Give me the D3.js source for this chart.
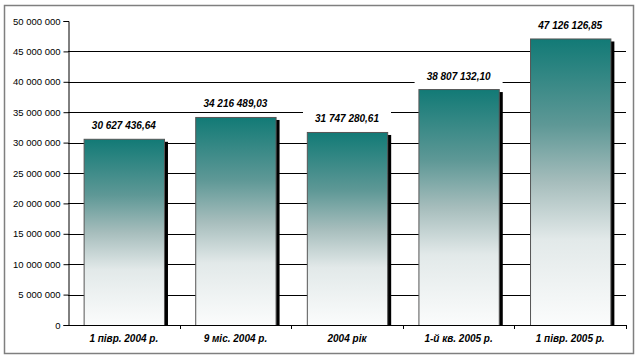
<!DOCTYPE html>
<html><head><meta charset="utf-8">
<script src="https://cdn.jsdelivr.net/npm/d3@7"></script>
<style>body{margin:0;background:#fff}svg{display:block}</style>
</head><body><svg id="c" width="640" height="359"></svg>
<script>
const categories = ["1 півр. 2004 р.", "9 міс. 2004 р.", "2004 рік", "1-й кв. 2005 р.", "1 півр. 2005 р."];
const values = [30627436.64, 34216489.03, 31747280.61, 38807132.10, 47126126.85];
const valueLabels = ["30 627 436,64", "34 216 489,03", "31 747 280,61", "38 807 132,10", "47 126 126,85"];
const yTicks = [0, 5000000, 10000000, 15000000, 20000000, 25000000, 30000000, 35000000, 40000000, 45000000, 50000000];

const svg = d3.select("#c");
const m = {l: 68, r: 626, t: 21, b: 325};
svg.append("rect").attr("x", 4.5).attr("y", 5.5).attr("width", 629).attr("height", 348)
  .attr("fill", "#fff").attr("stroke", "#7f7f7f").attr("stroke-width", 1.5);

const x = d3.scaleBand().domain(categories).range([m.l, m.r]).paddingInner(0.28).paddingOuter(0.14);
const xb = d3.scaleBand().domain(categories).range([m.l, m.r]);
const y = d3.scaleLinear().domain([0, 50000000]).range([m.b, m.t]);

const defs = svg.append("defs");
const g = defs.append("linearGradient").attr("id", "grad").attr("x1", 0).attr("y1", 0).attr("x2", 0).attr("y2", 1);
[["0%", "#127a76"], ["30%", "#5e9896"], ["50%", "#a6bdbc"], ["70%", "#e2e9e9"], ["100%", "#fbfcfc"]]
  .forEach(([o, c]) => g.append("stop").attr("offset", o).attr("stop-color", c));

// gridlines
svg.append("g").selectAll("line").data(yTicks.filter(d => d > 0 && d < 50000000)).join("line")
  .attr("x1", m.l).attr("x2", m.r).attr("y1", d => Math.round(y(d)) + 0.5).attr("y2", d => Math.round(y(d)) + 0.5)
  .attr("stroke", "#000").attr("stroke-width", 1);

// y axis
const ya = svg.append("g").attr("transform", `translate(${m.l + 0.5},0)`)
  .call(d3.axisLeft(y).tickValues(yTicks).tickSize(5).tickPadding(3)
    .tickFormat(d => d3.format(",")(d).replace(/,/g, " ")));
ya.selectAll("text").attr("font-family", "Arial, 'Liberation Sans', sans-serif").attr("font-size", "9.5px").attr("fill", "#000");
ya.select(".domain").attr("stroke", "#000");
ya.selectAll(".tick line").attr("stroke", "#000");

// shadows
svg.append("g").selectAll("rect").data(values).join("rect")
  .attr("x", (d, i) => x(categories[i]) + x.bandwidth()).attr("y", d => y(d) + 3)
  .attr("width", 4).attr("height", d => m.b - y(d) - 3).attr("fill", "#000");
// bars
svg.append("g").selectAll("rect").data(values).join("rect")
  .attr("x", (d, i) => x(categories[i]) + 0.5).attr("y", d => y(d) + 0.5)
  .attr("width", x.bandwidth()).attr("height", d => m.b - y(d))
  .attr("fill", "url(#grad)").attr("stroke", "#555").attr("stroke-width", 1);

// x axis
svg.append("line").attr("x1", m.l).attr("x2", m.r).attr("y1", m.b + 0.5).attr("y2", m.b + 0.5).attr("stroke", "#000");
svg.append("g").selectAll("line").data(categories.map((c, i) => i + 1)).join("line")
  .attr("x1", i => Math.round(m.l + i * xb.step()) + 0.5).attr("x2", i => Math.round(m.l + i * xb.step()) + 0.5)
  .attr("y1", m.b).attr("y2", m.b + 4).attr("stroke", "#000");
svg.append("g").selectAll("text").data(categories).join("text")
  .attr("x", d => xb(d) + xb.bandwidth() / 2).attr("y", 342)
  .attr("text-anchor", "middle").attr("font-family", "Arial, 'Liberation Sans', sans-serif")
  .attr("font-size", "10px").attr("font-weight", "bold").attr("font-style", "italic").text(d => d);

// value labels
const lg = svg.append("g").selectAll("g").data(values).join("g")
  .attr("transform", (d, i) => `translate(${x(categories[i]) + x.bandwidth() / 2},${y(d) - 13})`);
lg.append("rect").attr("x", -44).attr("y", -8).attr("width", 88).attr("height", 15).attr("fill", "#fff");
lg.append("text").attr("text-anchor", "middle").attr("dy", "0.35em")
  .attr("font-family", "Arial, 'Liberation Sans', sans-serif").attr("font-size", "10px")
  .attr("font-weight", "bold").attr("font-style", "italic").text((d, i) => valueLabels[i]);
</script></body></html>
